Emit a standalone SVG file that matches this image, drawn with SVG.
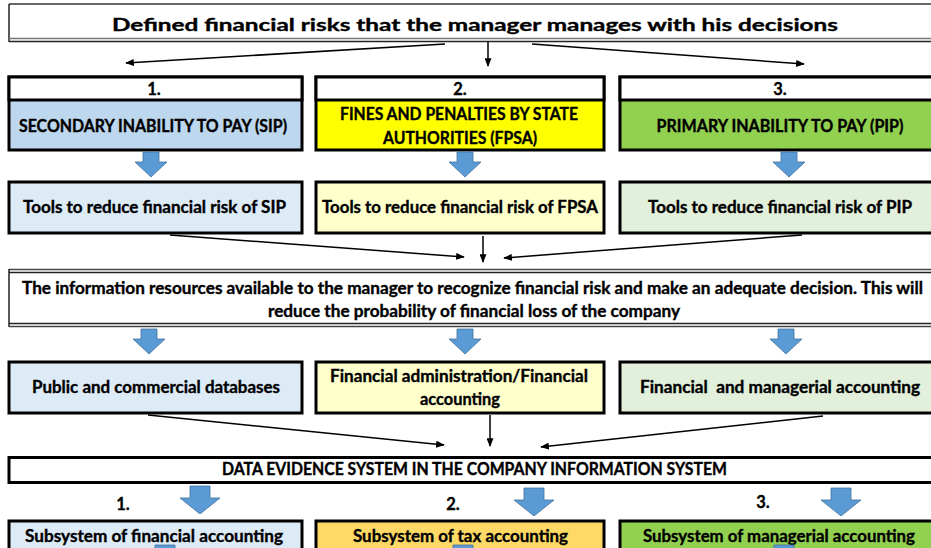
<svg xmlns="http://www.w3.org/2000/svg" xmlns:xlink="http://www.w3.org/1999/xlink" width="931" height="548" viewBox="0 0 931 548">
  <style>
    .t { font-family: Lato, "Liberation Sans", sans-serif; font-weight: bold; fill: #000; stroke: #000; stroke-width: 0.35; text-anchor: middle; font-size: 16.5px; }
    .box { stroke: #000; stroke-width: 3; }
    .conn { stroke: #000; stroke-width: 1.5; fill: none; marker-end: url(#head); }
    .blue { fill: #5B9BD5; stroke: #41719C; stroke-width: 0.8; }
  </style>
  <defs>
    <marker id="head" viewBox="0 0 10 8" refX="9" refY="4" markerWidth="9" markerHeight="7" markerUnits="userSpaceOnUse" orient="auto">
      <path d="M0,0 L10,4 L0,8 z" fill="#000"/>
    </marker>
    <!-- block arrow, origin at the top centre -->
    <path id="blk" class="blue" d="M-8,0 H8 V10 H16 L0,25 L-16,10 H-8 Z"/>
    <path id="blkL" class="blue" d="M-10,0 H10 V12 H20 L0,28 L-20,12 H-10 Z"/>
  </defs>

  <rect width="931" height="548" fill="#fff"/>

  <!-- title -->
  <g id="title">
    <line x1="9" y1="4" x2="931" y2="4" stroke="#666" stroke-width="2"/>
    <line x1="9" y1="4" x2="9" y2="42" stroke="#222" stroke-width="1.5"/>
    <line x1="9" y1="38.5" x2="931" y2="38.5" stroke="#777" stroke-width="1.5"/>
    <line x1="9" y1="41.5" x2="931" y2="41.5" stroke="#222" stroke-width="1.5"/>
    <text class="t" x="475" y="31" font-size="27.5" stroke-width="0.5" textLength="726" lengthAdjust="spacingAndGlyphs">Defined financial risks that the manager manages with his decisions</text>
  </g>

  <!-- risk categories -->
  <g id="risk1">
    <rect class="box" x="9" y="77" width="293" height="73" fill="#BDD7EE"/>
    <rect class="box" x="9" y="77" width="293" height="23" fill="#fff"/>
    <text class="t" x="154" y="95">1.</text>
    <text class="t" x="153" y="132" textLength="268" lengthAdjust="spacingAndGlyphs">SECONDARY INABILITY TO PAY (SIP)</text>
  </g>
  <g id="risk2">
    <rect class="box" x="316" y="77" width="288" height="73" fill="#FFFF00"/>
    <rect class="box" x="316" y="77" width="288" height="23" fill="#fff"/>
    <text class="t" x="460" y="95">2.</text>
    <text class="t" x="459" y="120" textLength="238" lengthAdjust="spacingAndGlyphs">FINES AND PENALTIES BY STATE</text>
    <text class="t" x="460" y="144" textLength="154" lengthAdjust="spacingAndGlyphs">AUTHORITIES (FPSA)</text>
  </g>
  <g id="risk3">
    <rect class="box" x="620" y="77" width="322" height="73" fill="#92D050"/>
    <rect class="box" x="620" y="77" width="322" height="23" fill="#fff"/>
    <text class="t" x="780" y="95">3.</text>
    <text class="t" x="780" y="132" textLength="247" lengthAdjust="spacingAndGlyphs">PRIMARY INABILITY TO PAY (PIP)</text>
  </g>

  <!-- tools -->
  <g id="tools1">
    <rect class="box" x="9" y="182" width="293" height="51" fill="#DDEBF7"/>
    <text class="t" x="154.5" y="213" textLength="263" lengthAdjust="spacingAndGlyphs">Tools to reduce financial risk of SIP</text>
  </g>
  <g id="tools2">
    <rect class="box" x="316" y="182" width="288" height="51" fill="#FFFFCC"/>
    <text class="t" x="460" y="213" textLength="276" lengthAdjust="spacingAndGlyphs">Tools to reduce financial risk of FPSA</text>
  </g>
  <g id="tools3">
    <rect class="box" x="620" y="182" width="322" height="51" fill="#E2EFDA"/>
    <text class="t" x="780" y="213" textLength="264" lengthAdjust="spacingAndGlyphs">Tools to reduce financial risk of PIP</text>
  </g>

  <!-- information resources -->
  <g id="info">
    <line x1="9" y1="269.5" x2="931" y2="269.5" stroke="#444" stroke-width="1.5"/>
    <line x1="9" y1="272.5" x2="931" y2="272.5" stroke="#222" stroke-width="1.5"/>
    <line x1="9" y1="269" x2="9" y2="327" stroke="#222" stroke-width="1.5"/>
    <line x1="9" y1="323.5" x2="931" y2="323.5" stroke="#222" stroke-width="1.5"/>
    <line x1="9" y1="326.5" x2="931" y2="326.5" stroke="#444" stroke-width="1.5"/>
    <text class="t" x="472.5" y="294" textLength="901" lengthAdjust="spacingAndGlyphs">The information resources available to the manager to recognize financial risk and make an adequate decision. This will</text>
    <text class="t" x="474" y="317" textLength="412" lengthAdjust="spacingAndGlyphs">reduce the probability of financial loss of the company</text>
  </g>

  <!-- sources -->
  <g id="src1">
    <rect class="box" x="9" y="362" width="293" height="51" fill="#DDEBF7"/>
    <text class="t" x="156" y="393" textLength="248" lengthAdjust="spacingAndGlyphs">Public and commercial databases</text>
  </g>
  <g id="src2">
    <rect class="box" x="316" y="362" width="288" height="51" fill="#FFFFCC"/>
    <text class="t" x="459" y="382" textLength="258" lengthAdjust="spacingAndGlyphs">Financial administration/Financial</text>
    <text class="t" x="460" y="405" textLength="80" lengthAdjust="spacingAndGlyphs">accounting</text>
  </g>
  <g id="src3">
    <rect class="box" x="620" y="362" width="322" height="51" fill="#E2EFDA"/>
    <text class="t" x="780" y="393" textLength="280" lengthAdjust="spacingAndGlyphs" xml:space="preserve">Financial  and managerial accounting</text>
  </g>

  <!-- data evidence system -->
  <g id="data">
    <rect class="box" x="9" y="457.5" width="933" height="25" fill="#fff"/>
    <text class="t" x="474.5" y="475" font-size="15" textLength="505" lengthAdjust="spacingAndGlyphs">DATA EVIDENCE SYSTEM IN THE COMPANY INFORMATION SYSTEM</text>
  </g>

  <!-- subsystems -->
  <g id="sub1">
    <text class="t" x="123" y="510">1.</text>
    <rect class="box" x="9" y="521" width="293" height="32" fill="#DDEBF7"/>
    <text class="t" x="154" y="542" textLength="258" lengthAdjust="spacingAndGlyphs">Subsystem of financial accounting</text>
  </g>
  <g id="sub2">
    <text class="t" x="453" y="510">2.</text>
    <rect class="box" x="316" y="521" width="288" height="32" fill="#FFD966"/>
    <text class="t" x="460.5" y="542" textLength="215" lengthAdjust="spacingAndGlyphs">Subsystem of tax accounting</text>
  </g>
  <g id="sub3">
    <text class="t" x="763" y="508">3.</text>
    <rect class="box" x="620" y="521" width="322" height="32" fill="#92D050"/>
    <text class="t" x="779" y="542" textLength="272" lengthAdjust="spacingAndGlyphs">Subsystem of managerial accounting</text>
  </g>

  <!-- connectors -->
  <g id="connectors">
    <line class="conn" x1="445" y1="44" x2="126" y2="63"/>
    <line class="conn" x1="488" y1="42" x2="488" y2="66"/>
    <line class="conn" x1="532" y1="44" x2="804" y2="64"/>

    <line class="conn" x1="170" y1="235" x2="464" y2="257"/>
    <line class="conn" x1="483" y1="236" x2="483" y2="262"/>
    <line class="conn" x1="802" y1="235" x2="504" y2="258"/>

    <line class="conn" x1="148" y1="415" x2="444" y2="445"/>
    <line class="conn" x1="490" y1="415" x2="490" y2="446"/>
    <line class="conn" x1="823" y1="416" x2="541" y2="447"/>

    <use xlink:href="#blk" x="151" y="152"/>
    <use xlink:href="#blk" x="465" y="152"/>
    <use xlink:href="#blk" x="789" y="152"/>

    <use xlink:href="#blk" x="149" y="329"/>
    <use xlink:href="#blk" x="465" y="329"/>
    <use xlink:href="#blk" x="786" y="329"/>

    <use xlink:href="#blkL" x="200" y="486"/>
    <use xlink:href="#blkL" x="534" y="488"/>
    <use xlink:href="#blkL" x="841" y="488"/>

    <use xlink:href="#blkL" x="165" y="545"/>
    <use xlink:href="#blkL" x="463" y="545"/>
    <use xlink:href="#blkL" x="784" y="545"/>
  </g>
</svg>
